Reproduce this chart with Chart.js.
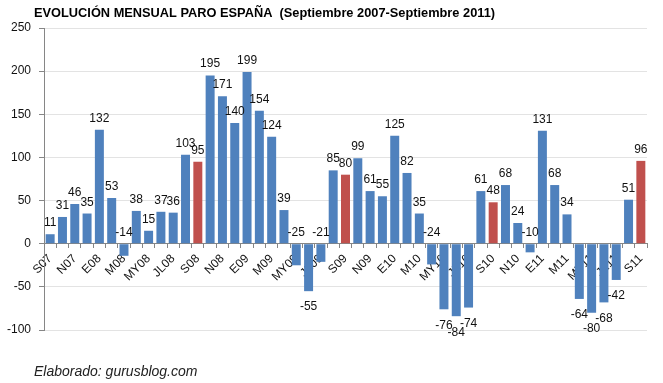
<!DOCTYPE html>
<html>
<head>
<meta charset="utf-8">
<script src="https://cdn.jsdelivr.net/npm/chart.js@4/dist/chart.umd.min.js"></script>
<style>
  html, body { margin: 0; padding: 0; background: #fff; }
  #wrap { position: relative; width: 663px; height: 383px; }
</style>
</head>
<body>
<div id="wrap"><canvas id="paroChart" width="663" height="383"></canvas></div>
<script>
// Datos: variación mensual del paro (miles), Sep 2007 - Sep 2011
const meses = [
  'S07', 'O07', 'N07', 'D07',
  'E08', 'F08', 'M08', 'A08', 'MY08', 'JN08', 'JL08', 'AG08', 'S08', 'O08', 'N08', 'D08',
  'E09', 'F09', 'M09', 'A09', 'MY09', 'JN09', 'JL09', 'AG09', 'S09', 'O09', 'N09', 'D09',
  'E10', 'F10', 'M10', 'A10', 'MY10', 'JN10', 'JL10', 'AG10', 'S10', 'O10', 'N10', 'D10',
  'E11', 'F11', 'M11', 'A11', 'MY11', 'JN11', 'JL11', 'AG11', 'S11'
]
const variacion = [
  11, 31, 46, 35,
  132, 53, -14, 38, 15, 37, 36, 103, 95, 195, 171, 140,
  199, 154, 124, 39, -25, -55, -21, 85, 80, 99, 61, 55,
  125, 82, 35, -24, -76, -84, -74, 61, 48, 68, 24, -10,
  131, 68, 34, -64, -80, -68, -42, 51, 96
]
const destacados = ['S08', 'S09', 'S10', 'S11']
const yTicks = [250, 200, 150, 100, 50, 0, -50, -100]

const AZUL = '#4F81BD'
const ROJO = '#C0504D'
const colores = meses.map(m => destacados.includes(m) ? ROJO : AZUL)

// Etiquetas de valor encima / debajo de cada barra
const etiquetasPlugin = {
  id: 'etiquetas',
  afterDatasetsDraw(chart) {
    const ctx = chart.ctx
    const meta = chart.getDatasetMeta(0)
    const yScale = chart.scales.y
    ctx.save()
    ctx.font = '12px "Liberation Sans", Arial, sans-serif'
    ctx.fillStyle = '#111'
    ctx.textAlign = 'center'
    meta.data.forEach((bar, i) => {
      const v = variacion[i]
      if (v >= 0) {
        ctx.textBaseline = 'alphabetic'
        ctx.fillText(v, bar.x, bar.y - 8)
      } else if (v > -30) {
        // negativos pequeños: encima del eje
        ctx.textBaseline = 'alphabetic'
        ctx.fillText(v, bar.x, yScale.getPixelForValue(0) - 8)
      } else {
        ctx.textBaseline = 'top'
        ctx.fillText(v, bar.x, bar.y + 10)
      }
    })
    ctx.restore()
  }
}

// Título y pie
const textosPlugin = {
  id: 'textos',
  afterDraw(chart) {
    const ctx = chart.ctx
    ctx.save()
    ctx.fillStyle = '#000'
    ctx.textAlign = 'left'
    ctx.textBaseline = 'middle'
    ctx.font = 'bold 12.8px "Liberation Sans", Arial, sans-serif'
    ctx.fillText('EVOLUCIÓN MENSUAL PARO ESPAÑA  (Septiembre 2007-Septiembre 2011)', 34, 13)
    ctx.font = 'italic 14px "Liberation Sans", Arial, sans-serif'
    ctx.fillStyle = '#222'
    ctx.fillText('Elaborado: gurusblog.com', 34, 372)
    ctx.restore()
  }
}

const ctx = document.getElementById('paroChart').getContext('2d')

new Chart(ctx, {
  type: 'bar',
  data: {
    labels: meses,
    datasets: [{
      label: 'Paro',
      data: variacion,
      backgroundColor: colores,
      borderWidth: 0,
      categoryPercentage: 1,
      barPercentage: 0.73
    }]
  },
  options: {
    responsive: false,
    animation: false,
    layout: {
      padding: { top: 28, right: 16, bottom: 53, left: 0 }
    },
    plugins: {
      legend: { display: false },
      tooltip: { enabled: false }
    },
    scales: {
      x: {
        position: { y: 0 },
        z: 1, // etiquetas del eje por encima de las barras
        offset: true,
        grid: {
          offset: true,
          drawOnChartArea: false,
          drawTicks: true,
          tickLength: 4,
          color: '#868686'
        },
        border: { color: '#868686' },
        ticks: {
          autoSkip: false,
          maxRotation: 45,
          minRotation: 45,
          padding: 4,
          color: '#111',
          font: { size: 12, family: '"Liberation Sans", Arial, sans-serif' },
          callback: (value, index) => index % 2 === 0 ? meses[index] : ''
        }
      },
      y: {
        min: -100,
        max: 250,
        afterBuildTicks: axis => {
          axis.ticks = yTicks.map(v => ({ value: v }))
        },
        afterFit: axis => { axis.width = 44 },
        grid: {
          color: '#e3e3e3',
          tickLength: 5,
          tickColor: '#868686'
        },
        border: { color: '#868686' },
        ticks: {
          padding: 8,
          color: '#111',
          font: { size: 12, family: '"Liberation Sans", Arial, sans-serif' }
        }
      }
    }
  },
  plugins: [etiquetasPlugin, textosPlugin]
})
</script>
</body>
</html>
